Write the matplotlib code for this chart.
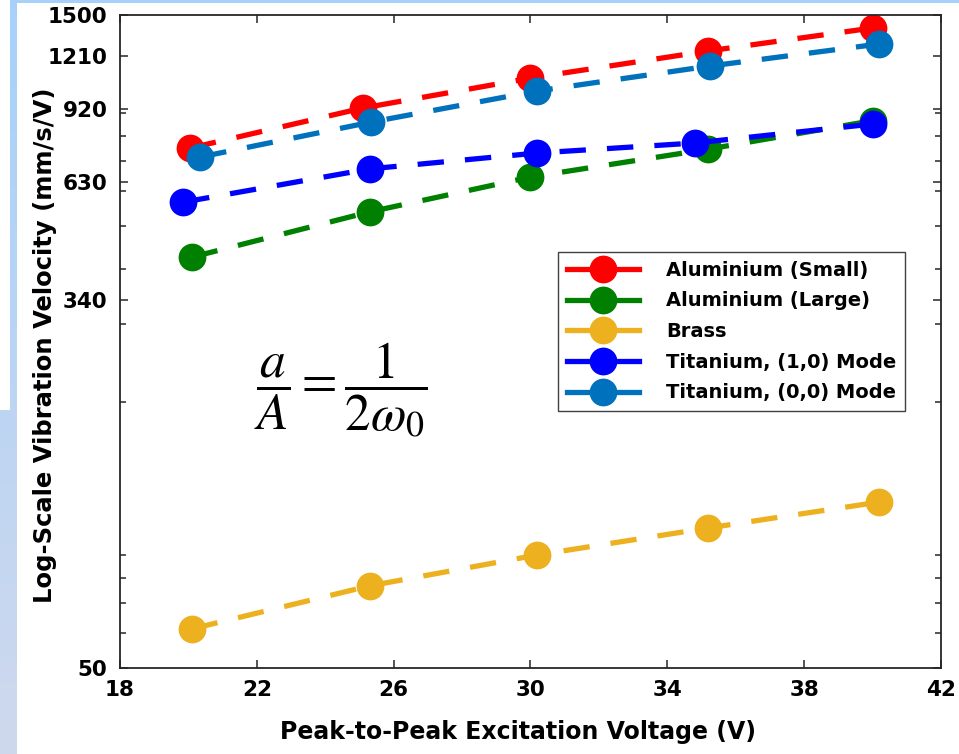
import numpy as np
import matplotlib
matplotlib.use("Agg")
import matplotlib.pyplot as plt
from matplotlib.patches import Rectangle
from matplotlib.ticker import FixedLocator, LogLocator, NullFormatter

plt.rcParams["font.family"] = ["DejaVu Sans"]
plt.rcParams["mathtext.fontset"] = "stix"

# data
series_names = ["Aluminium (Small)", "Aluminium (Large)", "Brass",
                "Titanium, (1,0) Mode", "Titanium, (0,0) Mode"]
series_colors = ["#ff0000", "#008000", "#edb120", "#0000ff", "#0072bd"]

al_small_x = [20.05, 25.1, 30.0, 35.2, 40.0]
al_small_y = [750, 924, 1080, 1244, 1402]
al_large_x = [20.1, 25.3, 30.0, 35.2, 40.0]
al_large_y = [425, 538, 645, 746, 865]
brass_x = [20.1, 25.3, 30.2, 35.2, 40.2]
brass_y = [61.3, 76.7, 90.1, 103.7, 118.7]
ti10_x = [19.85, 25.3, 30.2, 34.8, 40.0]
ti10_y = [566, 673, 731, 770, 850]
ti00_x = [20.35, 25.35, 30.2, 35.25, 40.2]
ti00_y = [716, 859, 1010, 1150, 1290]

xs = [al_small_x, al_large_x, brass_x, ti10_x, ti00_x]
ys = [al_small_y, al_large_y, brass_y, ti10_y, ti00_y]

x_ticks = [18, 22, 26, 30, 34, 38, 42]
y_ticks = [50, 340, 630, 920, 1210, 1500]

W, H = 959, 754
fig = plt.figure(figsize=(W / 100, H / 100), dpi=100)

# light blue slide border behind the chart
bg = fig.add_axes([0, 0, 1, 1], zorder=-5)
grad = np.linspace(0, 1, 256).reshape(-1, 1)
top_c = np.array([0.66, 0.82, 0.98])
bot_c = np.array([0.81, 0.85, 0.93])
img = top_c[None, None, :] * (1 - grad[:, :, None]) + bot_c[None, None, :] * grad[:, :, None]
bg.imshow(img, extent=[0, W, H, 0], aspect="auto")
bg.add_patch(Rectangle((17, 3), W - 17, H - 3, color="white", lw=0))
bg.add_patch(Rectangle((0, 0), 10, 410, color="white", lw=0))
bg.set_xlim(0, W)
bg.set_ylim(H, 0)
bg.axis("off")

ax = fig.add_axes([120 / W, 1 - 668 / H, 821 / W, 653 / H])
for x, y, c, name in zip(xs, ys, series_colors, series_names):
    ax.plot(x, y, color=c, lw=3.8, ls=(0, (5, 4)), marker="o", ms=20,
            mec="none", label=name)

ax.set_yscale("log")
ax.set_xlim(18, 42)
ax.set_ylim(50, 1500)
ax.xaxis.set_major_locator(FixedLocator(x_ticks))
ax.yaxis.set_major_locator(FixedLocator(y_ticks))
ax.set_yticklabels([str(t) for t in y_ticks])
ax.yaxis.set_minor_locator(LogLocator(subs="auto"))
ax.yaxis.set_minor_formatter(NullFormatter())
ax.tick_params(which="both", direction="in", top=True, right=True,
               labelsize=15.5, color="#262626", width=1.1)
ax.tick_params(which="major", length=6, pad=9)
ax.tick_params(which="minor", length=4)
for lab in ax.get_xticklabels() + ax.get_yticklabels():
    lab.set_fontweight("bold")
for s in ax.spines.values():
    s.set_color("#262626")
    s.set_linewidth(1.3)

ax.set_xlabel("Peak-to-Peak Excitation Voltage (V)", fontsize=17,
              fontweight="bold")
ax.set_ylabel("Log-Scale Vibration Velocity (mm/s/V)", fontsize=17.5,
              fontweight="bold")
ax.xaxis.set_label_coords(0.485, -0.08)
ax.yaxis.set_label_coords(-0.077, 0.495)

leg = ax.legend(loc="upper left", bbox_to_anchor=(0.5335, 0.637),
                borderaxespad=0, fancybox=False, edgecolor="#404040",
                framealpha=1, prop={"size": 14, "weight": "bold"},
                handlelength=3.7, handletextpad=1.4, labelspacing=0.6,
                borderpad=0.45)
leg.get_frame().set_linewidth(1.0)
for h in leg.legend_handles:
    h.set_linestyle("-")

fig.text(341 / W, 1 - 390 / H, r"$\dfrac{a}{A} = \dfrac{1}{2\omega_0}$",
         fontsize=37, fontweight="normal", ha="center", va="center")

fig.savefig("out.png", dpi=100)
